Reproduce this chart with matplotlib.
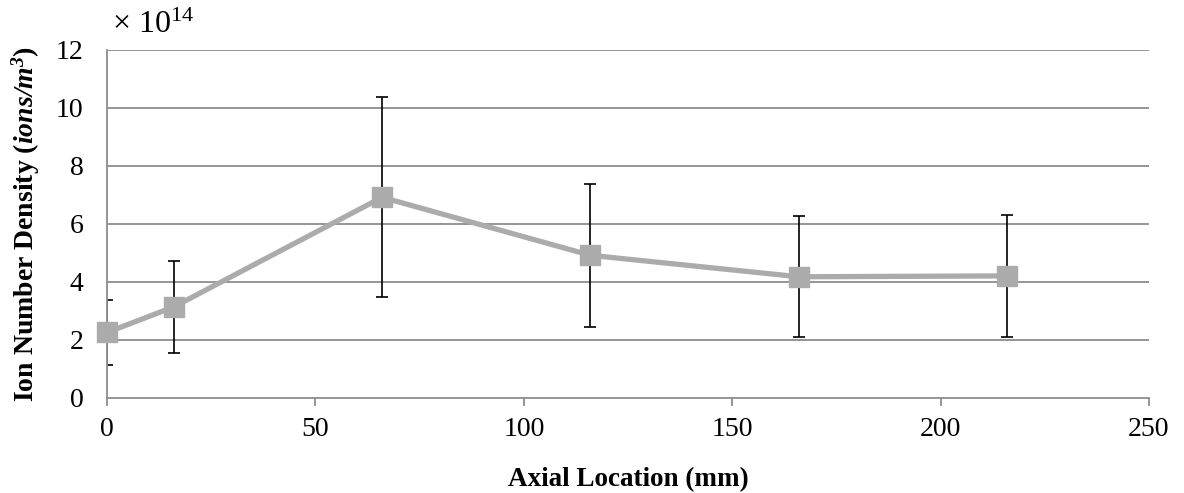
import matplotlib.pyplot as plt
import numpy as np

plt.rcParams['font.family'] = ['Liberation Serif', 'DejaVu Serif']
plt.rcParams['mathtext.fontset'] = 'custom'
plt.rcParams['mathtext.rm'] = 'Liberation Serif'
plt.rcParams['mathtext.it'] = 'Liberation Serif:italic'
plt.rcParams['mathtext.bf'] = 'Liberation Serif:bold'
plt.rcParams['mathtext.bfit'] = 'Liberation Serif:italic:bold'

# axial location (mm) and ion density (x 1e14 ions/m^3)
axial_mm = [0, 16, 66, 116, 166, 216]
density = [2.26, 3.14, 6.92, 4.92, 4.18, 4.21]
density_err = [1.13, 1.58, 3.45, 2.46, 2.08, 2.1]

x_ticks = [0, 50, 100, 150, 200, 250]
y_ticks = [0, 2, 4, 6, 8, 10, 12]

fig = plt.figure(figsize=(11.84, 4.93), dpi=100)
ax = fig.add_axes([0.0904, 0.1927, 0.88, 0.7059])

for yv in y_ticks[1:]:
    ax.axhline(yv, color='#8c8c8c', lw=1.3, zorder=0)

ax.errorbar(axial_mm, density, yerr=density_err, fmt='none', ecolor='black',
            elinewidth=1.2, capsize=4, capthick=1.2, zorder=2)
ax.plot(axial_mm, density, color='#ababab', lw=3.8, marker='s', markersize=14,
        markerfacecolor='#ababab', markeredgecolor='#ababab', zorder=3, clip_on=False)

ax.set_xlim(0, 250)
ax.set_ylim(0, 12)
ax.set_xticks(x_ticks)
ax.set_yticks(y_ticks)

for s in ['top', 'right']:
    ax.spines[s].set_visible(False)
ax.spines['left'].set_color('#8c8c8c')
ax.spines['bottom'].set_color('#8c8c8c')
ax.spines['left'].set_linewidth(1.3)
ax.spines['bottom'].set_linewidth(1.3)

ax.tick_params(axis='x', direction='out', length=6, width=1.3, color='#8c8c8c',
               labelsize=20, pad=8)
ax.tick_params(axis='y', length=0, labelsize=20, pad=17)

ax.set_xlabel('Axial Location (mm)', fontsize=19.5, fontweight='bold', labelpad=18)
ax.set_ylabel(r'Ion Number Density ($\mathbfit{ions/m^3}$)', fontsize=20,
              fontweight='bold', labelpad=10)

fig.text(0.0945, 0.949, r'× $10^{14}$', fontsize=23, ha='left', va='center')

fig.savefig('out.png', dpi=100)
